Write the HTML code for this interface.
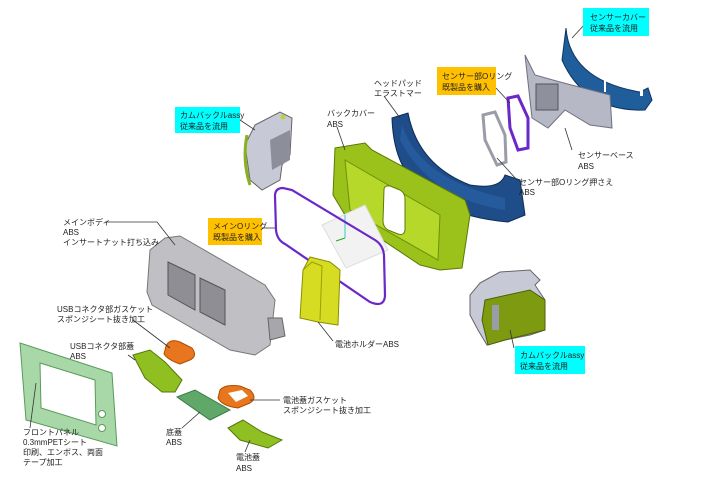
<!DOCTYPE html>
<html><head><meta charset="utf-8"><style>
html,body{margin:0;padding:0;background:#fff}
svg{display:block}
text{font-family:"Liberation Sans","Noto Sans CJK JP",sans-serif;font-size:8px;fill:#222}
</style></head><body>
<svg width="720" height="480" viewBox="0 0 720 480" xmlns="http://www.w3.org/2000/svg">
<!-- sensor cover blue strap -->
<path d="M566,28 Q570,80 640,92 L648,88 L652,100 L645,110 Q585,112 562,60 Z" fill="#1f5e9a" stroke="#0f3560" stroke-width="1"/>
<rect x="640" y="84" width="3" height="12" fill="#fff"/><rect x="604" y="80" width="2" height="12" fill="#fff"/>
<!-- sensor base gray -->
<path d="M525,55 L535,75 L560,82 L610,95 L612,128 L590,125 L565,110 L548,128 L532,118 Z" fill="#b6b8c6" stroke="#6e7080"/>
<rect x="536" y="84" width="22" height="26" fill="#8e909e" stroke="#555"/>
<!-- sensor purple ring -->
<path d="M508,98 L518,96 L528,118 L528,148 L518,150 L510,128 Z" fill="none" stroke="#6a28c8" stroke-width="3"/>
<!-- gray ring -->
<path d="M483,115 L495,112 L505,135 L506,162 L497,165 L485,140 Z" fill="none" stroke="#9a9ca8" stroke-width="3"/>
<!-- head pad blue (U-band) -->
<path d="M392,118 L408,113 Q418,165 470,185 Q500,190 505,175 L520,180 L525,215 L508,222 Q430,215 405,170 Q393,150 392,118 Z" fill="#1f4d8a" stroke="#0b2c55"/>
<path d="M402,125 Q420,180 505,198 L505,210 Q430,198 400,140 Z" fill="#2a66aa" opacity="0.6"/>
<!-- back cover green -->
<path d="M335,148 L365,143 L372,150 L465,200 L470,215 L462,268 L440,270 L420,265 L345,215 L333,195 Z" fill="#9ac21a" stroke="#5b7a06"/>
<path d="M345,160 L440,215 L438,260 L350,210 Z" fill="#b6d82a" stroke="#6f900c"/>
<path d="M384,190 Q384,185 390,186 L400,190 Q405,193 405,199 L405,230 Q404,236 398,234 L388,230 Q383,227 383,221 Z" fill="#fff" stroke="#5b7a06"/>
<!-- grid plane -->
<path d="M322,225 L365,205 L388,250 L346,268 Z" fill="#f2f2f2" stroke="#ddd"/>
<line x1="345" y1="215" x2="345" y2="238" stroke="#3cc" stroke-width="1"/>
<line x1="345" y1="238" x2="336" y2="241" stroke="#2a2"/>
<!-- main O-ring purple -->
<path d="M283,188 Q275,188 275,196 L276,230 Q277,240 285,244 L370,302 Q384,308 385,296 L384,255 Q383,245 375,240 L292,190 Z" fill="none" stroke="#6a28c8" stroke-width="2.2"/>
<!-- left buckle gray -->
<path d="M255,125 L280,112 L292,118 L290,155 L282,165 L280,180 L262,190 L250,180 L245,145 Z" fill="#c8c9d6" stroke="#666"/>
<path d="M270,140 L290,130 L290,160 L272,170 Z" fill="#8c8e9a"/>
<path d="M247,135 Q242,160 250,185" fill="none" stroke="#8ab020" stroke-width="3"/>
<circle cx="283" cy="117" r="2.5" fill="#bbd23a"/>
<!-- main body gray -->
<path d="M150,250 L165,238 L180,236 L265,285 L275,300 L270,345 L255,355 L230,350 L152,305 L147,292 Z" fill="#c0c0c4" stroke="#777"/>
<path d="M168,262 L195,275 L195,310 L168,295 Z" fill="#8e8e94" stroke="#555"/>
<path d="M200,278 L225,290 L225,325 L200,312 Z" fill="#8e8e94" stroke="#555"/>
<path d="M268,318 L282,318 L285,336 L270,340 Z" fill="#a6a6ac" stroke="#666"/>
<!-- battery holder yellow -->
<path d="M310,257 L330,262 L340,270 L338,325 L318,322 L300,318 L303,270 Z" fill="#d6dc22" stroke="#8a8e00"/>
<path d="M303,270 L312,262 L322,266 L320,320" fill="none" stroke="#9aa000"/>
<!-- right buckle -->
<path d="M480,283 L500,272 L530,270 L540,280 L535,285 L545,300 L545,330 L530,335 L505,340 L487,345 L478,330 L470,315 L470,295 Z" fill="#c8c9d6" stroke="#666"/>
<path d="M485,300 L530,290 L545,300 L545,330 L505,340 L488,345 L482,320 Z" fill="#7e9a10" stroke="#4d6006"/>
<rect x="492" y="305" width="7" height="25" fill="#9a9ca8"/>
<!-- USB gasket orange -->
<path d="M166,346 Q170,338 180,342 L192,348 Q198,356 190,360 L180,364 Q168,360 164,354 Z" fill="#e8761e" stroke="#b04c00"/>
<!-- USB cover -->
<path d="M133,355 L150,350 L165,362 L182,380 L175,392 L162,392 L145,378 Z" fill="#8fbf20" stroke="#56780a"/>
<!-- battery gasket -->
<path d="M220,390 Q225,384 240,386 L250,390 Q258,398 250,403 L238,408 Q222,406 218,398 Z" fill="#e8761e" stroke="#b04c00"/>
<path d="M228,393 L242,390 L248,396 L236,402 Z" fill="#fff"/>
<!-- bottom cover -->
<path d="M177,397 L195,390 L230,410 L210,420 Z" fill="#5fa86a" stroke="#3c7a45"/>
<!-- battery cover -->
<path d="M228,428 L243,420 L262,432 L282,440 L268,448 L240,440 Z" fill="#8fbf20" stroke="#56780a"/>
<!-- front panel -->
<path d="M20,343 L112,373 L117,446 L26,420 Z" fill="#a8d8a8" stroke="#5a9a5a"/>
<path d="M40,363 L95,380 L96,425 L41,408 Z" fill="#fff" stroke="#5a9a5a"/>
<circle cx="102" cy="414" r="3.5" fill="#fff" stroke="#5a9a5a"/><circle cx="102" cy="428" r="3.5" fill="#fff" stroke="#5a9a5a"/>
<!-- leader lines -->
<g stroke="#333" stroke-width="0.8" fill="none">
<line x1="585" y1="24" x2="572" y2="38"/>
<line x1="496" y1="88" x2="510" y2="103"/>
<line x1="384" y1="96" x2="400" y2="118"/>
<line x1="337" y1="127" x2="345" y2="150"/>
<line x1="240" y1="120" x2="255" y2="130"/>
<line x1="572" y1="150" x2="565" y2="128"/>
<line x1="517" y1="180" x2="497" y2="158"/>
<line x1="262" y1="228" x2="275" y2="228"/>
<path d="M105,222 L157,222 L175,245"/>
<line x1="333" y1="341" x2="318" y2="322"/>
<line x1="133" y1="320" x2="170" y2="348"/>
<line x1="128" y1="355" x2="135" y2="360"/>
<line x1="280" y1="400" x2="250" y2="400"/>
<line x1="182" y1="428" x2="200" y2="412"/>
<line x1="245" y1="452" x2="250" y2="440"/>
<line x1="30" y1="428" x2="36" y2="383"/>
<line x1="514" y1="348" x2="510" y2="330"/>
</g>
<!-- label boxes -->
<rect x="583" y="8" width="66" height="28" fill="#00ffff"/>
<text x="590" y="20">センサーカバー</text><text x="590" y="31">従来品を流用</text>
<rect x="437" y="67" width="59" height="28" fill="#ffc000"/>
<text x="442" y="79">センサー部Oリング</text><text x="442" y="90">既製品を購入</text>
<rect x="175" y="107" width="65" height="26" fill="#00ffff"/>
<text x="180" y="118">カムバックルassy</text><text x="180" y="129">従来品を流用</text>
<rect x="208" y="218" width="54" height="27" fill="#ffc000"/>
<text x="213" y="229">メインOリング</text><text x="213" y="240">既製品を購入</text>
<rect x="515" y="346" width="70" height="28" fill="#00ffff"/>
<text x="520" y="358">カムバックルassy</text><text x="520" y="369">従来品を流用</text>
<!-- plain labels -->
<text x="374" y="86">ヘッドパッド</text><text x="374" y="96">エラストマー</text>
<text x="327" y="116">バックカバー</text><text x="327" y="127">ABS</text>
<text x="578" y="158">センサーベース</text><text x="578" y="169">ABS</text>
<text x="519" y="185">センサー部Oリング押さえ</text><text x="519" y="195">ABS</text>
<text x="63" y="225">メインボディ</text><text x="63" y="235">ABS</text><text x="63" y="245">インサートナット打ち込み</text>
<text x="57" y="312">USBコネクタ部ガスケット</text><text x="57" y="322">スポンジシート抜き加工</text>
<text x="70" y="349">USBコネクタ部蓋</text><text x="70" y="359">ABS</text>
<text x="335" y="347">電池ホルダーABS</text>
<text x="283" y="403">電池蓋ガスケット</text><text x="283" y="413">スポンジシート抜き加工</text>
<text x="166" y="435">底蓋</text><text x="166" y="445">ABS</text>
<text x="236" y="460">電池蓋</text><text x="236" y="471">ABS</text>
<text x="23" y="435">フロントパネル</text><text x="23" y="445">0.3mmPETシート</text><text x="23" y="455">印刷、エンボス、両面</text><text x="23" y="465">テープ加工</text>
</svg>
</body></html>
